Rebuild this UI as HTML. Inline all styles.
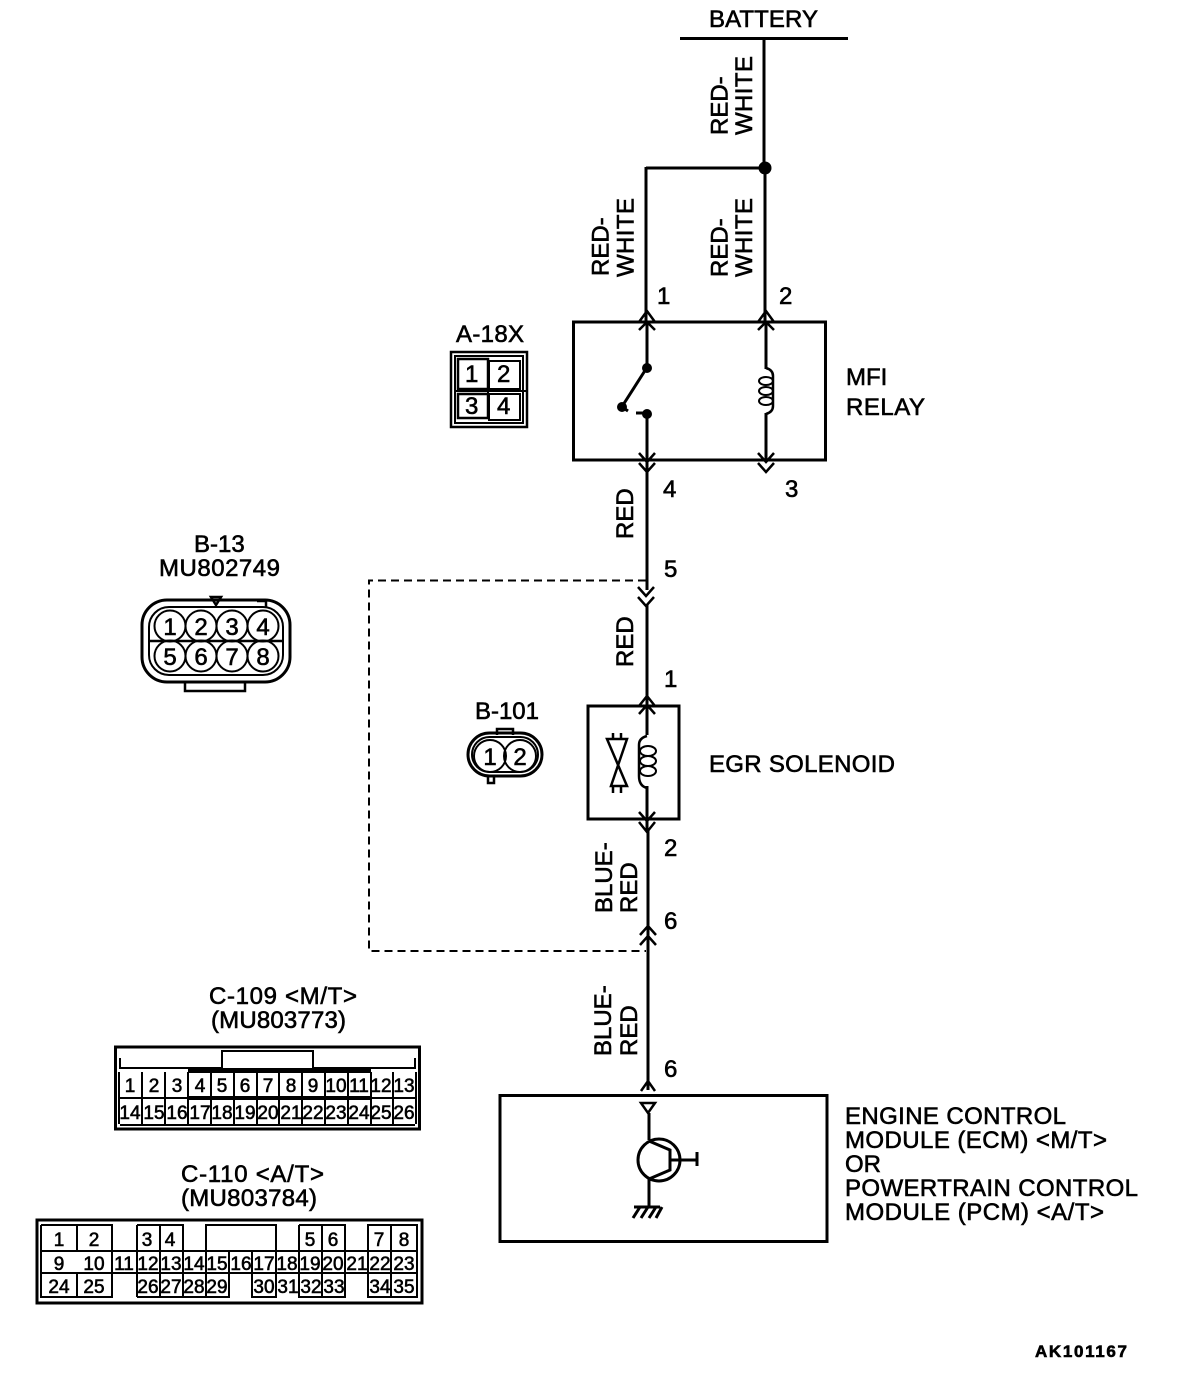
<!DOCTYPE html>
<html><head><meta charset="utf-8"><style>
html,body{margin:0;padding:0;background:#fff}
svg{display:block}
text{font-family:"Liberation Sans",sans-serif;font-size:24px;fill:#000;stroke:#000;stroke-width:.6}
.s text{font-size:19px;text-anchor:middle}
.l{fill:none;stroke:#000;stroke-width:3}
.t{fill:none;stroke:#000;stroke-width:2}
.b{fill:none;stroke:#000;stroke-width:2.5}
</style></head><body>
<svg width="1184" height="1374" viewBox="0 0 1184 1374" xmlns="http://www.w3.org/2000/svg">
<!-- battery -->
<text x="709" y="27" textLength="109">BATTERY</text>
<path class="l" d="M680 38.500H848"/>
<path class="l" d="M764 38V168M765 168V322M646 168H765M646 167V322"/>
<circle cx="765" cy="168" r="6.500"/>
<!-- wire labels -->
<text transform="translate(727.500,135) rotate(-90)">RED-</text>
<text transform="translate(752,135) rotate(-90)" textLength="79">WHITE</text>
<text transform="translate(608.500,276) rotate(-90)">RED-</text>
<text transform="translate(633.500,277) rotate(-90)" textLength="79">WHITE</text>
<text transform="translate(727.500,277) rotate(-90)">RED-</text>
<text transform="translate(752,277) rotate(-90)" textLength="79">WHITE</text>
<text transform="translate(633,539) rotate(-90)">RED</text>
<text transform="translate(633,667) rotate(-90)">RED</text>
<text transform="translate(612,913) rotate(-90)">BLUE-</text>
<text transform="translate(637,913) rotate(-90)">RED</text>
<text transform="translate(611,1056) rotate(-90)">BLUE-</text>
<text transform="translate(637,1056) rotate(-90)">RED</text>
<!-- pin numbers -->
<text x="657" y="304">1</text><text x="779" y="304">2</text>
<text x="663" y="497">4</text><text x="785" y="497">3</text>
<text x="664" y="577">5</text><text x="664" y="687">1</text>
<text x="664" y="856">2</text><text x="664" y="929">6</text>
<text x="664" y="1077">6</text>
<!-- relay -->
<rect class="l" x="573.500" y="322" width="252" height="138"/>
<path class="b" d="M639 322L647 311L655 322M639 330L647 322L655 330M758 322L766 311L774 322M758 330L766 322L774 330"/>
<path class="b" d="M639 453L647 462L655 453M639 463L647 472L655 463M758 453L766 462L774 453M758 463L766 472L774 463"/>
<path class="l" d="M647 322V367M647 414V590M766 322V369M766 413V460"/>
<circle cx="647" cy="368" r="5"/><circle cx="647" cy="414" r="5"/><circle cx="622" cy="407" r="5"/>
<path class="l" d="M646 369L623 405M636 413H647M622 407L628 411"/>
<path class="b" d="M766 368Q773 370 773 376V406Q773 412 766 414"/>
<ellipse class="t" cx="766" cy="381" rx="7" ry="4"/><ellipse class="t" cx="766" cy="391" rx="7" ry="4"/><ellipse class="t" cx="766" cy="401" rx="7" ry="4"/>
<text x="846" y="385">MFI</text><text x="846" y="415" textLength="79">RELAY</text>
<!-- A-18X -->
<text x="456" y="342" textLength="68">A-18X</text>
<rect class="b" x="451" y="352" width="76" height="75"/>
<rect class="t" x="455" y="356" width="68" height="67"/>
<rect class="b" x="458" y="359" width="30" height="30"/>
<rect class="t" x="489" y="361" width="31" height="28"/>
<rect class="b" x="458" y="394" width="30" height="24"/>
<rect class="t" x="489" y="394" width="31" height="26"/>
<path class="t" d="M456 391H526M488 388V396"/>
<text x="465" y="382">1</text><text x="497" y="382">2</text><text x="465" y="414">3</text><text x="497" y="414">4</text>
<!-- B-13 -->
<text x="194" y="552">B-13</text><text x="159" y="576" textLength="121">MU802749</text>
<rect class="l" x="142" y="600" width="148" height="82" rx="25"/>
<rect class="t" x="149" y="607" width="134" height="68" rx="20"/>
<path class="b" d="M211 597H221L216 605ZM257 601H266V607M185 682V691H245V682M150 641H282"/>
<circle class="t" cx="170" cy="626" r="15.500"/><circle class="t" cx="201" cy="626" r="15.500"/><circle class="t" cx="232" cy="626" r="15.500"/><circle class="t" cx="263" cy="626" r="15.500"/><circle class="t" cx="170" cy="656" r="15.500"/><circle class="t" cx="201" cy="656" r="15.500"/><circle class="t" cx="232" cy="656" r="15.500"/><circle class="t" cx="263" cy="656" r="15.500"/>
<g style="text-anchor:middle"><text x="170" y="635">1</text><text x="201" y="635">2</text><text x="232" y="635">3</text><text x="263" y="635">4</text><text x="170" y="665">5</text><text x="201" y="665">6</text><text x="232" y="665">7</text><text x="263" y="665">8</text></g>
<!-- dashed -->
<path d="M646 580.500H369V951H646" fill="none" stroke="#000" stroke-width="2" stroke-dasharray="8 5"/>
<path class="b" d="M638 597L646 606L654 597M638 587L646 596L654 587M640 935L648 926L656 935M640 945L648 936L656 945"/>
<!-- B-101 -->
<text x="475" y="719" textLength="64">B-101</text>
<rect class="l" x="468" y="733" width="74" height="43" rx="21.500"/>
<rect class="t" x="472" y="737" width="66" height="35" rx="17.500"/>
<circle class="t" cx="490" cy="756" r="16"/><circle class="t" cx="520" cy="756" r="16"/>
<path class="b" d="M497 735V729H513V735M488 776V783H494V776"/>
<g style="text-anchor:middle"><text x="490" y="765">1</text><text x="520" y="765">2</text></g>
<!-- EGR -->
<rect class="l" x="588" y="706" width="91" height="113"/>
<path class="l" d="M647 605V706M647 706V735M647 786V830M648 830V1090"/>
<path class="b" d="M639 706L647 696L655 706M639 714L647 705L655 714M639 812L647 821L655 812M639 822L647 832L655 822"/>
<path class="b" d="M647 736Q639 738 639 745V776Q639 786 647 788"/>
<ellipse class="t" cx="648" cy="751" rx="8" ry="5"/><ellipse class="t" cx="648" cy="761" rx="8" ry="5"/><ellipse class="t" cx="648" cy="771" rx="8" ry="5"/>
<path class="b" d="M607 739H627L611 786H627L607 739ZM613 733V739M621 733V739M613 786V793M621 786V793"/>
<text x="709" y="772" textLength="186">EGR SOLENOID</text>
<!-- ECM -->
<rect class="l" x="500" y="1095.500" width="327" height="146"/>
<path class="b" d="M641 1091L648 1081L655 1091"/>
<path class="b" d="M641 1103H655L648 1113Z"/>
<path class="l" d="M649 1113V1140M649 1179V1207M634 1207H660"/>
<circle class="l" cx="659" cy="1160" r="21"/>
<path class="l" d="M649 1141L670 1150V1170L649 1179M670 1160H697M697 1152V1166"/>
<path class="l" d="M640 1207L633 1218M648 1207L641 1218M656 1207L649 1218M662 1207L656 1218"/>
<text x="845" y="1124" textLength="221">ENGINE CONTROL</text>
<text x="845" y="1148" textLength="262">MODULE (ECM) &lt;M/T&gt;</text>
<text x="845" y="1172">OR</text>
<text x="845" y="1196" textLength="293">POWERTRAIN CONTROL</text>
<text x="845" y="1220" textLength="259">MODULE (PCM) &lt;A/T&gt;</text>
<!-- C-109 -->
<text x="209" y="1004" textLength="148">C-109 &lt;M/T&gt;</text>
<text x="211" y="1028" textLength="135">(MU803773)</text>
<rect class="l" x="115.500" y="1047" width="304" height="82"/>
<path class="t" d="M120 1125H415M120 1058V1068H222M222 1068V1051H313V1068H415V1058"/>
<path d="M188 1068H371V1073H188ZM188 1096H371V1100H188Z"/>
<path class="t" d="M119 1072V1124M142 1072V1124M165 1072V1124M188 1072V1124M211 1072V1124M234 1072V1124M257 1072V1124M279 1072V1124M302 1072V1124M325 1072V1124M348 1072V1124M371 1072V1124M393 1072V1124M416 1072V1124M119 1098H416"/>
<g class="s"><text x="130" y="1092">1</text><text x="154" y="1092">2</text><text x="177" y="1092">3</text><text x="200" y="1092">4</text><text x="222" y="1092">5</text><text x="245" y="1092">6</text><text x="268" y="1092">7</text><text x="291" y="1092">8</text><text x="313" y="1092">9</text><text x="336" y="1092">10</text><text x="359" y="1092">11</text><text x="381" y="1092">12</text><text x="404" y="1092">13</text>
<text x="130" y="1119">14</text><text x="154" y="1119">15</text><text x="177" y="1119">16</text><text x="200" y="1119">17</text><text x="222" y="1119">18</text><text x="245" y="1119">19</text><text x="268" y="1119">20</text><text x="291" y="1119">21</text><text x="313" y="1119">22</text><text x="336" y="1119">23</text><text x="359" y="1119">24</text><text x="381" y="1119">25</text><text x="404" y="1119">26</text></g>
<!-- C-110 -->
<text x="181" y="1182" textLength="143">C-110 &lt;A/T&gt;</text>
<text x="181" y="1206" textLength="136">(MU803784)</text>
<rect class="l" x="37" y="1220" width="385" height="83"/>
<path class="t" d="M41 1225H112V1251M41 1225V1297H112V1273M77 1225V1251M77 1273V1297M137 1225H183V1251M137 1225V1297M160 1225V1297M183 1273V1297M206 1273V1297M229 1273V1297H137M206 1225H276V1251H206ZM276 1273V1297H252V1273M299 1225H345V1251M299 1225V1297H345V1273M322 1225V1297M368 1225H417V1297H368ZM391 1225V1297M41 1251H417M41 1273H417M229 1251V1273M252 1251V1273M206 1251V1273M112 1251V1273M137 1251V1273M345 1251V1273M183 1251V1273M276 1251V1273"/>
<g class="s"><text x="59" y="1246">1</text><text x="94" y="1246">2</text><text x="147" y="1246">3</text><text x="170" y="1246">4</text><text x="310" y="1246">5</text><text x="333" y="1246">6</text><text x="379" y="1246">7</text><text x="404" y="1246">8</text>
<text x="59" y="1270">9</text><text x="94" y="1270">10</text><text x="124" y="1270">11</text><text x="148" y="1270">12</text><text x="171" y="1270">13</text><text x="194" y="1270">14</text><text x="217" y="1270">15</text><text x="241" y="1270">16</text><text x="264" y="1270">17</text><text x="287" y="1270">18</text><text x="310" y="1270">19</text><text x="333" y="1270">20</text><text x="357" y="1270">21</text><text x="380" y="1270">22</text><text x="404" y="1270">23</text>
<text x="59" y="1293">24</text><text x="94" y="1293">25</text><text x="148" y="1293">26</text><text x="171" y="1293">27</text><text x="194" y="1293">28</text><text x="217" y="1293">29</text><text x="264" y="1293">30</text><text x="288" y="1293">31</text><text x="311" y="1293">32</text><text x="334" y="1293">33</text><text x="380" y="1293">34</text><text x="404" y="1293">35</text></g>
<text x="1035" y="1357" textLength="92" style="font-size:17px;font-weight:bold">AK101167</text>
</svg>
</body></html>
